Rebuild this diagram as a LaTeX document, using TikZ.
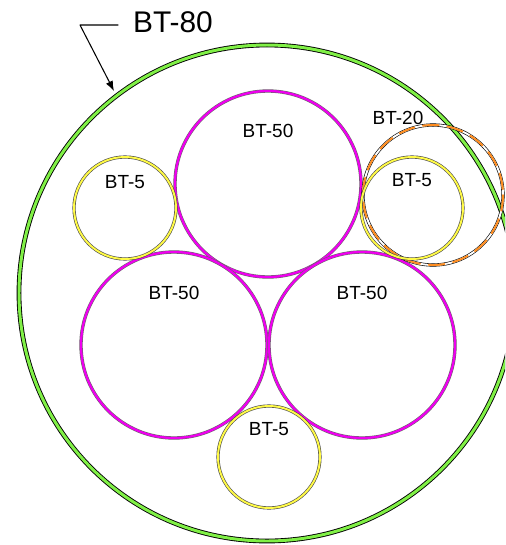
\documentclass[tikz,border=0pt]{standalone}
\usepackage{fontspec}
\setmainfont{Liberation Sans}
\usetikzlibrary{arrows.meta}
\definecolor{ductgreen}{RGB}{128,240,70}
\definecolor{ductmagenta}{RGB}{238,0,238}
\definecolor{ductyellow}{RGB}{255,250,70}
\definecolor{ductorange}{RGB}{255,140,30}
\begin{document}
\begin{tikzpicture}[x=0.02cm, y=-0.02cm, >=Latex, line join=round, line cap=round,
    bt80/.style={draw=black, line width=0.5pt, double=ductgreen, double distance=1.7pt},
    bt50/.style={draw=black!60, line width=0.3pt, double=ductmagenta, double distance=1.3pt},
    bt5/.style={draw=black!70, line width=0.35pt, double=ductyellow, double distance=1.1pt},
    bt20/.style={draw=black, line width=0.35pt, double=white, double distance=1.1pt},
    lbl/.style={font=\fontsize{10.8}{13}\selectfont, inner sep=0pt},
    biglbl/.style={font=\fontsize{17}{20}\selectfont, inner sep=1pt}]
    \useasboundingbox (0,0) rectangle (505,545);
    \clip (0,0) rectangle (505,545);
    \def\R{248} \def\rb{93} \def\rs{51} \def\rm{70} % radii
    % outer duct
    \draw[bt80] (267,293) circle (\R);
    % inner ducts
    \draw[bt50] (268,184) circle (\rb);
    \draw[bt50] (174,345) circle (\rb);
    \draw[bt50] (362,345) circle (\rb);
    \draw[bt5] (125,208) circle (\rs);
    \draw[bt5] (269,457) circle (\rs);
    \draw[bt20] (433,195) circle (\rm);
    \draw[ductorange, line width=1.1pt, dash pattern=on 9pt off 5pt] (433,195) circle (\rm);
    \draw[bt5] (412,208) circle (\rs);
    % labels
    \node[biglbl, anchor=west] (t80) at (131,22) {BT-80};
    \node[lbl] (t50a) at (268,131) {BT-50};
    \node[lbl] (t50b) at (174,293) {BT-50};
    \node[lbl] (t50c) at (362,293) {BT-50};
    \node[lbl] (t5a) at (125,182) {BT-5};
    \node[lbl] (t5b) at (412,180) {BT-5};
    \node[lbl] (t5c) at (269,429) {BT-5};
    \node[lbl] (t20) at (398,118) {BT-20};
    % leader
    \coordinate (bend) at (80,25);
    \coordinate (tip) at (114,91);
    \draw[->, line width=0.6pt] (t80.west) ++(-13,3) -- (bend) -- (tip);
\end{tikzpicture}
\end{document}
